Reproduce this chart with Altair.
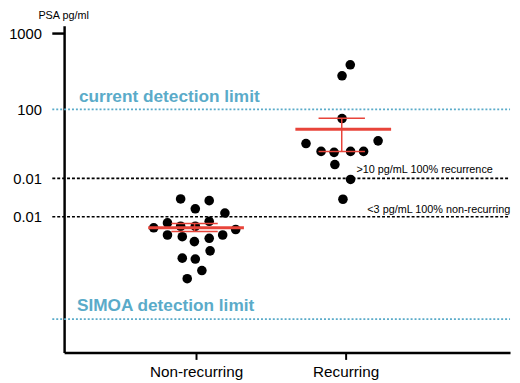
import altair as alt
import pandas as pd

FONT = "Liberation Sans"
BLUE = "#5aabc9"
RED = "#e8443a"

groups = ["Non-recurring", "Recurring"]
group_pos = [1, 2]

# PSA values (pg/ml), with horizontal swarm offsets
nonrec_psa = [6.58, 6.25, 4.88, 4.29, 3.18, 2.87, 2.87, 3.34, 2.74, 2.60,
              2.20, 2.09, 1.80, 1.99, 2.20, 1.36, 1.09, 1.06, 0.748, 0.584]
nonrec_jitter = [-0.103, 0.088, -0.005, 0.193, -0.191, -0.103, -0.005, 0.088, -0.283, 0.265,
                 -0.191, -0.092, -0.011, 0.088, 0.178, 0.094, -0.092, -0.005, 0.039, -0.059]
rec_psa = [387, 277, 75.7, 35.4, 38.4, 27.9, 27.1, 27.9, 27.9, 18.7, 11.9, 6.52]
rec_jitter = [0.031, -0.024, -0.024, -0.265, 0.217, -0.164, -0.077, 0.033, 0.12, -0.072, 0.033, -0.018]

# mean +/- SEM per group
mean_psa = [2.74, 54.5]
sem_low = [2.45, 27.9]
sem_high = [3.12, 76.4]
mean_center = [1.0, 1.984]
err_center = [0.99, 1.974]

# y axis ticks & labels (as printed)
y_ticks = [1000, 100, 12.3, 3.84]
y_labels = ["1000", "100", "0.01", "0.01"]

# reference lines
blue_lines = [100, 0.171]
black_lines = [12.3, 3.84]

annot_text = ["current detection limit", "SIMOA detection limit",
              ">10 pg/mL 100% recurrence", "<3 pg/mL 100% non-recurring"]
annot_line = [100, 0.171, 12.3, 3.84]

pts = pd.DataFrame({
    "x": [group_pos[0] + j for j in nonrec_jitter] + [group_pos[1] + j for j in rec_jitter],
    "psa": nonrec_psa + rec_psa,
})
stats = pd.DataFrame({"mc": mean_center, "ec": err_center, "mean": mean_psa,
                      "lo": sem_low, "hi": sem_high})

W, H = 453, 332
xscale = alt.Scale(domain=[0.118, 3.099], nice=False, zero=False)
yscale = alt.Scale(type="log", domain=[0.062, 1270], nice=False)

label_js = "[" + ",".join("'%s'" % s for s in y_labels) + "]"
tick_js = "[" + ",".join(str(v) for v in y_ticks) + "]"
group_js = "[" + ",".join("'%s'" % g for g in groups) + "]"

yaxis = alt.Axis(values=y_ticks, labelExpr=f"{label_js}[indexof({tick_js}, datum.value)]",
                 ticks=False, grid=False, labelPadding=23, labelFontSize=15,
                 labelColor="black", labelFont=FONT, domainColor="black", domainWidth=2.5,
                 title="PSA pg/ml", titleAngle=0, titleX=-1, titleY=-7, titleAlign="center",
                 titleBaseline="alphabetic", titleFontSize=11, titleFontWeight="normal",
                 titleFont=FONT, titleColor="black")
xaxis = alt.Axis(values=group_pos, labelExpr=f"{group_js}[datum.value - 1]", grid=False,
                 domainColor="black", domainWidth=2.5, tickColor="black", tickWidth=2,
                 tickSize=7, labelFontSize=15.5, labelFont=FONT, labelColor="black",
                 labelPadding=5, title="")


def Y(field):
    return alt.Y(field, scale=yscale, axis=yaxis)


def X(field):
    return alt.X(field, scale=xscale, axis=xaxis)


ref_blue = alt.Chart(pd.DataFrame({"v": blue_lines})).mark_rule(
    color=BLUE, strokeDash=[2, 2], strokeWidth=1.6).encode(
    y=Y("v:Q"), x=alt.value(-12), x2=alt.value(W))
ref_black = alt.Chart(pd.DataFrame({"v": black_lines})).mark_rule(
    color="black", strokeDash=[3, 2], strokeWidth=1.6).encode(
    y=Y("v:Q"), x=alt.value(-12), x2=alt.value(W))
tick1000 = alt.Chart(pd.DataFrame({"v": [y_ticks[0]]})).mark_rule(
    color="black", strokeWidth=2.5).encode(
    y=Y("v:Q"), x=alt.value(-12), x2=alt.value(0))

points = alt.Chart(pts).mark_circle(color="black", opacity=1, size=95).encode(
    x=X("x:Q"), y=Y("psa:Q"))

base = alt.Chart(stats)
mean_rule = base.transform_calculate(x1="datum.mc - 0.32", x2="datum.mc + 0.32").mark_rule(
    color=RED, strokeWidth=3).encode(x=X("x1:Q"), x2="x2:Q", y=Y("mean:Q"))
err_v = base.mark_rule(color=RED, strokeWidth=1.5).encode(
    x=X("ec:Q"), y=Y("lo:Q"), y2="hi:Q")
caps_lo = base.transform_calculate(x1="datum.ec - 0.155", x2="datum.ec + 0.155").mark_rule(
    color=RED, strokeWidth=1.5).encode(x=X("x1:Q"), x2="x2:Q", y=Y("lo:Q"))
caps_hi = base.transform_calculate(x1="datum.ec - 0.155", x2="datum.ec + 0.155").mark_rule(
    color=RED, strokeWidth=1.5).encode(x=X("x1:Q"), x2="x2:Q", y=Y("hi:Q"))

annot_style = [
    dict(x=15, dy=-7.5, fontSize=17.5, fontWeight="bold", color=BLUE),
    dict(x=13, dy=-8, fontSize=17.5, fontWeight="bold", color=BLUE),
    dict(x=297, dy=-5.3, fontSize=11, fontWeight="normal", color="black"),
    dict(x=308, dy=-4, fontSize=11, fontWeight="normal", color="black"),
]
annots = []
for txt, v, st in zip(annot_text, annot_line, annot_style):
    annots.append(alt.Chart(pd.DataFrame({"t": [txt], "v": [v]})).mark_text(
        align="left", baseline="alphabetic", dy=st["dy"], fontSize=st["fontSize"],
        fontWeight=st["fontWeight"], color=st["color"], font=FONT).encode(
        x=alt.value(st["x"]), y=Y("v:Q"), text="t:N"))

chart = alt.layer(ref_blue, ref_black, tick1000, points, mean_rule, err_v, caps_lo, caps_hi,
                  *annots).properties(
    width=W, height=H,
    autosize=alt.AutoSizeParams(type="none"),
    padding={"left": 57, "top": 15, "right": 2, "bottom": 28},
    background="white",
).configure_view(stroke=None)

chart.save("out.html", embed_options={"renderer": "svg", "actions": False})
